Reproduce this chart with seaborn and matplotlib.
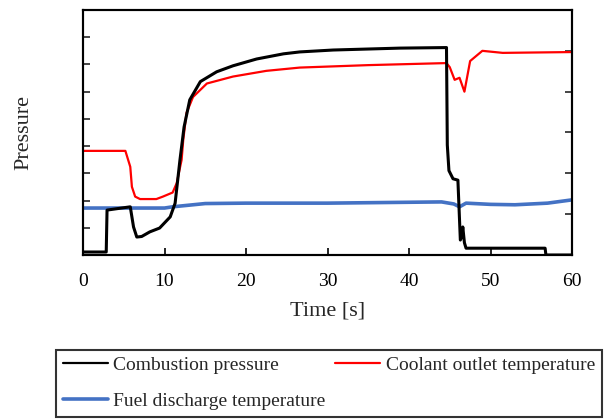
import numpy as np
import pandas as pd
import matplotlib
matplotlib.use("Agg")
import matplotlib.pyplot as plt
import seaborn as sns
from matplotlib.lines import Line2D

# ---- data ----
t_press = [0, 2.85, 2.95, 5.8, 6.2, 6.6, 7.2, 8.2, 9.4, 10.7, 11.3, 11.9, 12.4, 13.1,
           14.4, 16.4, 18.4, 21.3, 24.6, 26.6, 30.7, 38.9, 44.6, 44.7, 44.9, 45.4,
           46.0, 46.3, 46.5, 46.6, 46.8, 47.0, 56.7, 56.8, 60]
combustion_pressure = [0.11, 0.11, 1.65, 1.77, 1.03, 0.66, 0.68, 0.85, 0.99, 1.4, 1.9,
                       3.5, 4.7, 5.7, 6.37, 6.73, 6.95, 7.2, 7.39, 7.46, 7.53, 7.6, 7.62,
                       4.04, 3.1, 2.8, 2.75, 0.55, 0.7, 1.03, 0.45, 0.25, 0.25, 0.0, 0.0]

t_cool = [0, 5.2, 5.8, 6.0, 6.4, 7.0, 9.0, 9.8, 11.0, 11.5, 12.1, 12.3, 12.7, 13.5,
          15.2, 18.4, 22.5, 26.6, 35, 44.6, 45.0, 45.6, 46.2, 46.8, 47.5, 49.0,
          50.5, 51.5, 60]
coolant_outlet_temp = [2.55, 2.55, 2.16, 1.67, 1.43, 1.37, 1.37, 1.43, 1.53, 1.76, 2.33,
                       2.82, 3.48, 3.87, 4.2, 4.37, 4.51, 4.59, 4.65, 4.7, 4.6, 4.29,
                       4.34, 4.0, 4.75, 5.0, 4.97, 4.95, 4.97]

t_fuel = [0, 10, 11, 13, 15, 20, 30, 44, 45.5, 46.2, 47, 50, 53, 57, 60]
fuel_discharge_temp = [1.15, 1.15, 1.18, 1.22, 1.26, 1.27, 1.27, 1.3, 1.25, 1.18, 1.27,
                       1.24, 1.23, 1.27, 1.35]

x_ticks = [0, 10, 20, 30, 40, 50, 60]
labels = ["Combustion pressure", "Coolant outlet temperature", "Fuel discharge temperature"]
colors = ["#000000", "#ff0000", "#4472c4"]

sns.set_theme(style="ticks")
plt.rcParams["font.family"] = ["Liberation Serif", "DejaVu Serif"]

fig = plt.figure(figsize=(6.04, 4.19), dpi=100)
ax = fig.add_axes([83/604, 1-255/419, (572-83)/604, (255-10)/419])
ax2 = ax.twinx()

df_p = pd.DataFrame({"t": t_press, "v": combustion_pressure})
df_c = pd.DataFrame({"t": t_cool, "v": coolant_outlet_temp})
df_f = pd.DataFrame({"t": t_fuel, "v": fuel_discharge_temp})

sns.lineplot(data=df_f, x="t", y="v", ax=ax2, color=colors[2], lw=2.6, estimator=None, sort=False)
sns.lineplot(data=df_c, x="t", y="v", ax=ax2, color=colors[1], lw=1.6, estimator=None, sort=False)
sns.lineplot(data=df_p, x="t", y="v", ax=ax, color=colors[0], lw=2.2, estimator=None, sort=False)
ax.set_zorder(ax2.get_zorder() + 1)
ax.patch.set_visible(False)

ax.set_xlim(0, 60)
ax.set_ylim(0, 9)
ax2.set_ylim(0, 6)
ax.set_xticks(x_ticks)
ax.set_xticklabels([str(v) for v in x_ticks])
ax.set_yticks(range(0, 10))
ax.set_yticklabels([])
ax2.set_yticks(range(0, 7))
ax2.set_yticklabels([])
ax.tick_params(axis="x", direction="in", length=5, width=1.2, labelsize=14, pad=13, colors="black")
ax.tick_params(axis="y", direction="in", length=5, width=1.2, left=True)
ax2.tick_params(axis="y", direction="in", length=5, width=1.2, right=True)
for a in (ax, ax2):
    for s in a.spines.values():
        s.set_visible(True)
        s.set_linewidth(1.5)
        s.set_color("black")
ax.set_xlabel("Time [s]", fontsize=16, labelpad=8)
ax.set_ylabel("Pressure", fontsize=16, labelpad=32)
ax2.set_ylabel("")

handles = [Line2D([], [], color=colors[0], lw=1.6),
           Line2D([], [], color=colors[1], lw=1.6),
           Line2D([], [], color=colors[2], lw=2.6)]
order = [0, 2, 1]
leg = fig.legend([handles[i] for i in order], [labels[i] for i in order], ncol=2,
                 loc="lower left", mode="expand",
                 bbox_to_anchor=(56/604, 2/419, 546/604, 0.1), fontsize=14, frameon=True,
                 fancybox=False, edgecolor="black", handlelength=2.3,
                 handletextpad=0.3, columnspacing=0.3, borderpad=0.35,
                 labelspacing=0.95, borderaxespad=0)
leg.get_frame().set_linewidth(1.5)

fig.savefig("out.png", dpi=100)
